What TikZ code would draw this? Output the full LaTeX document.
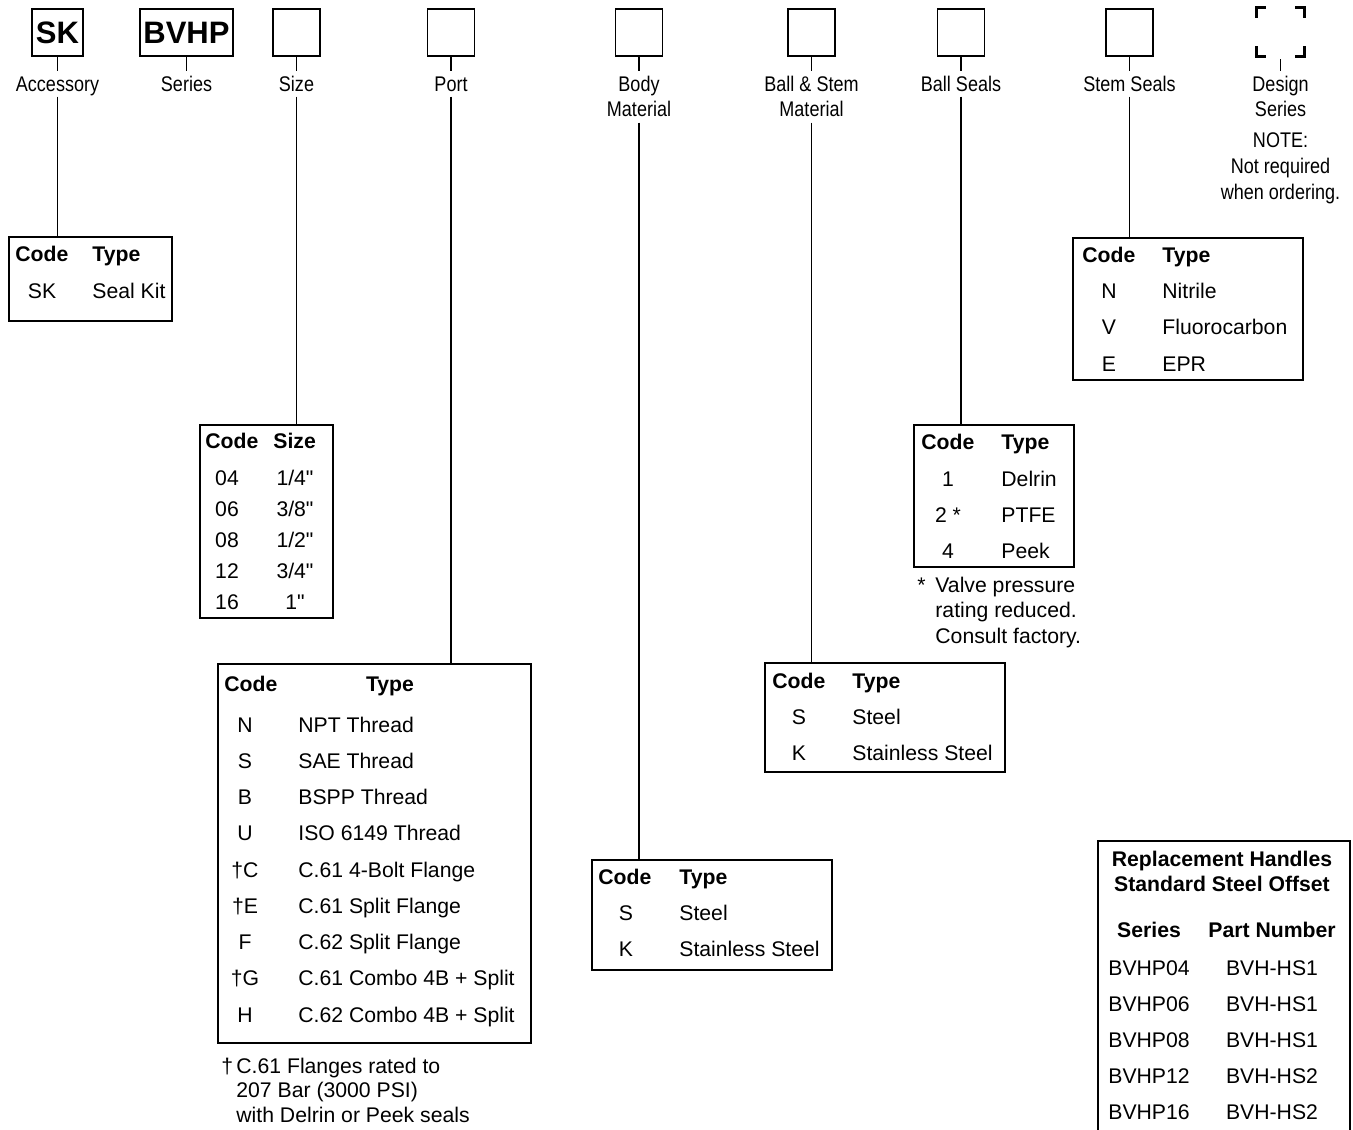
\documentclass[tikz,border=0pt]{standalone}
\usepackage{fontspec}
\setmainfont{Liberation Sans}
\newfontfamily\narrowfont[FakeStretch=0.85]{Liberation Sans}
\newfontfamily\rawfont{Liberation Sans}
\usepackage{tikz}
\newcommand{\tabsize}{\fontsize{10.6}{12.7}\selectfont}
\newcommand{\inch}{{\rawfont\char34}}
\tikzstyle{tag} = [draw, line width=0.85pt, minimum width=23.5pt, minimum height=23.5pt,
    inner sep=0pt, font=\fontsize{15.5}{18}\selectfont\bfseries]
\tikzstyle{lbl} = [inner sep=0pt, anchor=base, text height=1.6ex, text depth=0.5ex,
    font=\narrowfont\tabsize]
\tikzstyle{tabframe} = [draw, line width=0.75pt, inner sep=0pt]
\tikzstyle{cell} = [inner sep=0pt, anchor=base, font=\tabsize]
\tikzstyle{lcell} = [cell, anchor=base west]
\tikzstyle{hdr} = [lcell, font=\tabsize\bfseries]
\tikzstyle{link} = [line width=0.7pt]
\tikzstyle{corner} = [line width=1.4pt]

\begin{document}
\begin{tikzpicture}[x=0.5pt, y=-0.5pt]
    \useasboundingbox (0,0) rectangle (1353,1129);
    \clip (0,0) rectangle (1353,1129);

    % ordering code boxes
    \node (skbox) [tag, minimum width=25.5pt] at (57.5,32.5) {SK};
    \node (bvhpbox) [tag, minimum width=46.5pt] at (186.5,32.5) {BVHP};
    \node (sizebox) [tag] at (296.5,32.5) {};
    \node (portbox) [tag] at (451,32.5) {};
    \node (bodybox) [tag] at (639,32.5) {};
    \node (ballstembox) [tag] at (811.5,32.5) {};
    \node (ballsealbox) [tag] at (961,32.5) {};
    \node (stemsealbox) [tag] at (1129.5,32.5) {};
    \node (dsgbox) [tag, draw=none] at (1280.5,32) {};
    \draw [corner] ([yshift=-5pt]dsgbox.north west) -- (dsgbox.north west) -- ([xshift=5pt]dsgbox.north west);
    \draw [corner] ([yshift=-5pt]dsgbox.north east) -- (dsgbox.north east) -- ([xshift=-5pt]dsgbox.north east);
    \draw [corner] ([yshift=5pt]dsgbox.south west) -- (dsgbox.south west) -- ([xshift=5pt]dsgbox.south west);
    \draw [corner] ([yshift=5pt]dsgbox.south east) -- (dsgbox.south east) -- ([xshift=-5pt]dsgbox.south east);

    % labels under the boxes
    \node (acclbl) [lbl] at (skbox |- 0,91) {Accessory};
    \node (serlbl) [lbl] at (bvhpbox |- 0,91) {Series};
    \node (sizelbl) [lbl] at (sizebox |- 0,91) {Size};
    \node (portlbl) [lbl] at (portbox |- 0,91) {Port};
    \node (bodylbl) [lbl] at (bodybox |- 0,91) {Body};
    \node (bodylbl2) [lbl] at (bodybox |- 0,117) {Material};
    \node (bslbl) [lbl] at (ballstembox |- 0,91) {Ball \& Stem};
    \node (bslbl2) [lbl] at (ballstembox |- 0,117) {Material};
    \node (seallbl) [lbl] at (ballsealbox |- 0,91) {Ball Seals};
    \node (stemlbl) [lbl] at (stemsealbox |- 0,91) {Stem Seals};
    \node (dsglbl) [lbl] at (dsgbox |- 0,91) {Design};
    \node (dsglbl2) [lbl] at (dsgbox |- 0,117) {Series};
    \node (note1) [lbl] at (dsgbox |- 0,148) {NOTE:};
    \node (note2) [lbl] at (dsgbox |- 0,173) {Not required};
    \node (note3) [lbl] at (dsgbox |- 0,199) {when ordering.};

    \foreach \b/\l in {skbox/acclbl, bvhpbox/serlbl, sizebox/sizelbl, portbox/portlbl,
        bodybox/bodylbl, ballstembox/bslbl, ballsealbox/seallbl, stemsealbox/stemlbl}
        \draw [link, shorten >=1.5pt] (\b) -- (\l);
    \draw [thin, shorten <=1.5pt, shorten >=1.5pt] (dsgbox) -- (dsglbl);

    % accessory
    \node (acctab) [tabframe, minimum width=81.5pt, minimum height=42pt] at (90.5,279) {};
    \node (acch1) [hdr] at (15,261) {Code};
    \node (acch2) [hdr] at (92,261) {Type};
    \node (accc1) [cell] at (42,298) {SK};
    \node (acct1) [lcell] at (92,298) {Seal Kit};

    % size
    \node (sizetab) [tabframe, minimum width=66.5pt, minimum height=96.5pt] at (266.5,521.5) {};
    \node (sizeh1) [hdr] at (205,448) {Code};
    \node (sizeh2) [hdr] at (273,448) {Size};
    \foreach \c/\s [count=\i] in {04/{1/4\inch}, 06/{3/8\inch}, 08/{1/2\inch}, 12/{3/4\inch}, 16/{1\inch}} {
        \node (sizec\i) [cell] at (227,{485+31*(\i-1)}) {\c};
        \node (sizes\i) [cell] at (295,{485+31*(\i-1)}) {\s};
    }

    % port
    \node (porttab) [tabframe, minimum width=156.5pt, minimum height=189.5pt] at (374.5,853.5) {};
    \node (porth1) [hdr] at (224,691) {Code};
    \node (porth2) [hdr, anchor=base] at (390,691) {Type};
    \foreach \c/\t [count=\i] in {N/NPT Thread, S/SAE Thread, B/BSPP Thread, U/ISO 6149 Thread,
        †C/C.61 4-Bolt Flange, †E/C.61 Split Flange, F/C.62 Split Flange,
        †G/C.61 Combo 4B + Split, H/C.62 Combo 4B + Split} {
        \node (portc\i) [cell] at (245,{732+36.25*(\i-1)}) {\c};
        \node (portt\i) [lcell] at (298,{732+36.25*(\i-1)}) {\t};
    }
    \node (portdag) [lcell] at (221,1073) {†};
    \node (portnote1) [lcell] at (236,1073) {C.61 Flanges rated to};
    \node (portnote2) [lcell] at (236,1097) {207 Bar (3000 PSI)};
    \node (portnote3) [lcell] at (236,1122) {with Delrin or Peek seals};

    % body material
    \node (bodytab) [tabframe, minimum width=120pt, minimum height=55pt] at (712,915) {};
    \node (bodyh1) [hdr] at (598,884) {Code};
    \node (bodyh2) [hdr] at (679,884) {Type};
    \foreach \c/\t [count=\i] in {S/Steel, K/Stainless Steel} {
        \node (bodyc\i) [cell] at (626,{920+36*(\i-1)}) {\c};
        \node (bodyt\i) [lcell] at (679,{920+36*(\i-1)}) {\t};
    }

    % ball & stem material
    \node (bstab) [tabframe, minimum width=120pt, minimum height=54.5pt] at (885,717.5) {};
    \node (bsh1) [hdr] at (772,688) {Code};
    \node (bsh2) [hdr] at (852,688) {Type};
    \foreach \c/\t [count=\i] in {S/Steel, K/Stainless Steel} {
        \node (bsc\i) [cell] at (799,{724+36*(\i-1)}) {\c};
        \node (bst\i) [lcell] at (852,{724+36*(\i-1)}) {\t};
    }

    % ball seals
    \node (sealtab) [tabframe, minimum width=80pt, minimum height=71pt] at (994,496) {};
    \node (sealh1) [hdr] at (921,449) {Code};
    \node (sealh2) [hdr] at (1001,449) {Type};
    \foreach \c/\t [count=\i] in {1/Delrin, 2 */PTFE, 4/Peek} {
        \node (sealc\i) [cell] at (948,{486+36*(\i-1)}) {\c};
        \node (sealt\i) [lcell] at (1001,{486+36*(\i-1)}) {\t};
    }
    \node (sealstar) [lcell] at (917,592) {*};
    \node (sealnote1) [lcell] at (935,592) {Valve pressure};
    \node (sealnote2) [lcell] at (935,617) {rating reduced.};
    \node (sealnote3) [lcell] at (935,643) {Consult factory.};

    % stem seals
    \node (stemtab) [tabframe, minimum width=115pt, minimum height=71pt] at (1188,309) {};
    \node (stemh1) [hdr] at (1082,262) {Code};
    \node (stemh2) [hdr] at (1162,262) {Type};
    \foreach \c/\t [count=\i] in {N/Nitrile, V/Fluorocarbon, E/EPR} {
        \node (stemc\i) [cell] at (1109,{298+36.5*(\i-1)}) {\c};
        \node (stemt\i) [lcell] at (1162,{298+36.5*(\i-1)}) {\t};
    }

    % replacement handles
    \node (hdltab) [tabframe, minimum width=126pt, minimum height=159.5pt] at (1224,1000.5) {};
    \node (hdltitle1) [hdr, anchor=base] at (1222,866) {Replacement Handles};
    \node (hdltitle2) [hdr, anchor=base] at (1222,891) {Standard Steel Offset};
    \node (hdlh1) [hdr, anchor=base] at (1149,937) {Series};
    \node (hdlh2) [hdr, anchor=base] at (1272,937) {Part Number};
    \foreach \s/\p [count=\i] in {BVHP04/BVH-HS1, BVHP06/BVH-HS1, BVHP08/BVH-HS1,
        BVHP12/BVH-HS2, BVHP16/BVH-HS2} {
        \node (hdls\i) [cell] at (1149,{975+36*(\i-1)}) {\s};
        \node (hdlp\i) [cell] at (1272,{975+36*(\i-1)}) {\p};
    }

    % connectors to the tables
    \draw [link] (acclbl) -- (acclbl |- acctab.north);
    \draw [link] (sizelbl) -- (sizelbl |- sizetab.north);
    \draw [link] (portlbl) -- (portlbl |- porttab.north);
    \draw [link] (bodylbl2) -- (bodylbl2 |- bodytab.north);
    \draw [link] (bslbl2) -- (bslbl2 |- bstab.north);
    \draw [link] (seallbl) -- (seallbl |- sealtab.north);
    \draw [link] (stemlbl) -- (stemlbl |- stemtab.north);
\end{tikzpicture}
\end{document}
